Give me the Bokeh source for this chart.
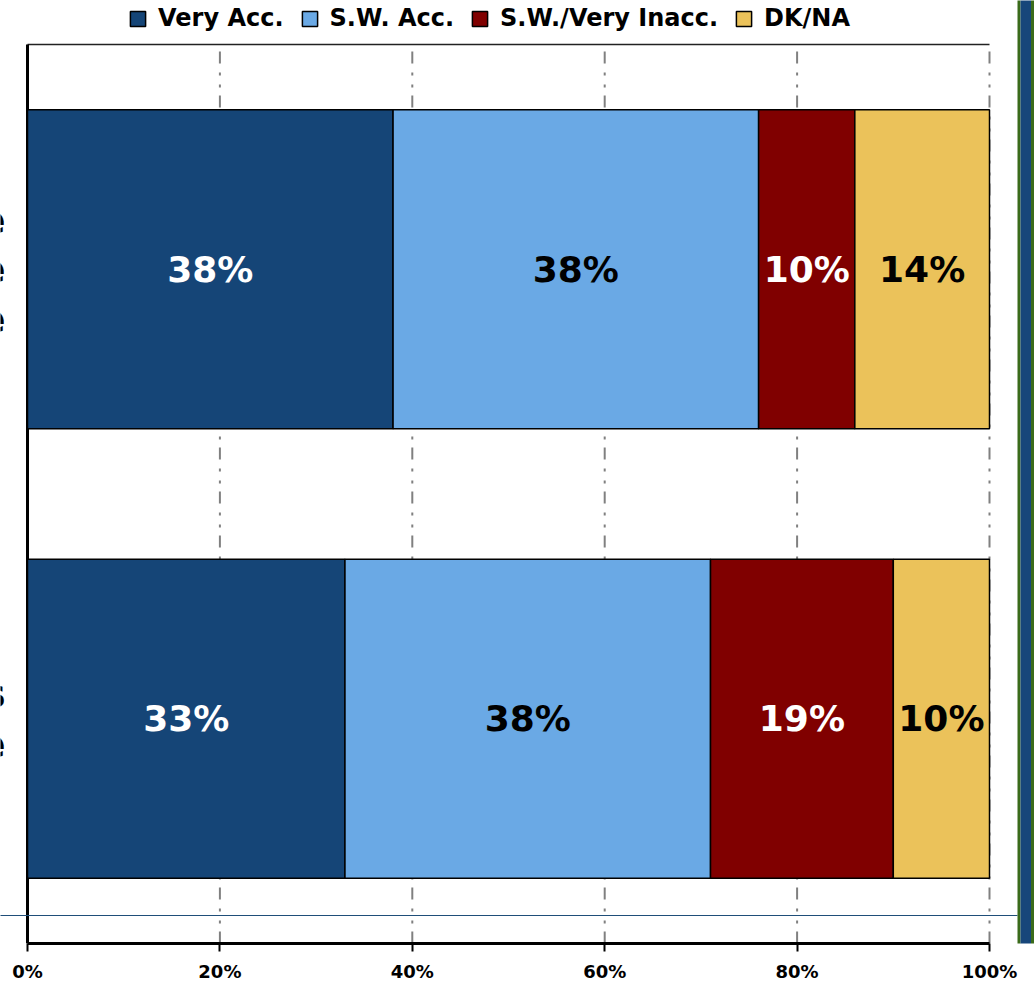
from bokeh.plotting import figure
from bokeh.models import Range1d, FixedTicker, PrintfTickFormatter, ColumnDataSource
from bokeh.core.properties import value
from bokeh.embed import file_html
from bokeh.resources import INLINE

# ---------------- data ----------------
categories = ["Online\nMagazine\nArticle", "Business\nMagazine"]   # top, bottom (only the last letters are visible)
series = ["Very Acc.", "S.W. Acc.", "S.W./Very Inacc.", "DK/NA"]
very_acc = [38, 33]
sw_acc = [38, 38]
sw_very_inacc = [10, 19]
dk_na = [14, 10]
colors = ["#154577", "#6aa9e5", "#800000", "#ebc25a"]
label_colors = ["white", "black", "white", "black"]
x_ticks = [0, 20, 40, 60, 80, 100]

# ---------------- layout constants ----------------
W, H = 1034, 984
PX_PER_X = 9.62          # pixels per percent
X0_PX = 27               # page x of 0%
PX_PER_Y = 449.5
TOP_PX = 44              # page y of the top border
BOTTOM_PX = 943          # page y of the x axis

def xpx(px):
    return (px - X0_PX) / PX_PER_X

ypos = [1, 0]            # top category at 1, bottom at 0
bar_h = 0.71

p = figure(width=W, height=H,
           x_range=Range1d(xpx(0), xpx(W)),
           y_range=Range1d(-0.5, 1.5 + TOP_PX / PX_PER_Y),
           min_border_left=0, min_border_right=0, min_border_top=0,
           min_border_bottom=H - BOTTOM_PX,
           y_axis_location=None, toolbar_location=None, output_backend="svg",
           outline_line_color=None, background_fill_color="white",
           border_fill_color="white")
p.grid.visible = False

# grid lines (dash-dot-dot)
p.segment(x0=x_ticks, x1=x_ticks, y0=[-0.5] * len(x_ticks), y1=[1.5] * len(x_ticks),
          line_color="#808080", line_width=2, line_dash="12 8 3 9 3 9")

# top border and left border
p.segment(x0=[0], x1=[100], y0=[1.5], y1=[1.5], line_color="#222222", line_width=1.5)
p.segment(x0=[0], x1=[0], y0=[-0.5], y1=[1.5], line_color="black", line_width=3)

# stacked bars
vals = [very_acc, sw_acc, sw_very_inacc, dk_na]
lefts = [0, 0]
for name, v, c, lc in zip(series, vals, colors, label_colors):
    rights = [l + d for l, d in zip(lefts, v)]
    src = ColumnDataSource(dict(y=ypos, left=lefts, right=rights,
                                xm=[(l + r) / 2 for l, r in zip(lefts, rights)],
                                lab=[f"{d}%" for d in v]))
    p.hbar(y="y", left="left", right="right", height=bar_h, source=src,
           fill_color=c, line_color="black", line_width=1.5, legend_label=name)
    p.text(x="xm", y="y", text="lab", source=src, text_align="center",
           text_baseline="middle", text_color=lc, text_font=value("DejaVu Sans"),
           text_font_style="bold", text_font_size="36px")
    lefts = rights

# category labels (cut off at the left edge, as in the reference)
p.text(x=[xpx(5)] * 2, y=ypos, text=categories, text_align="right",
       text_baseline="middle", text_color="black", text_font=value("DejaVu Sans"),
       text_font_style="bold", text_font_size="38px", text_line_height=1.13)

# thin slide line and right-hand stripe
line_y = -0.5 + (BOTTOM_PX - 915) / PX_PER_Y
p.segment(x0=[xpx(-5)], x1=[xpx(1017)], y0=[line_y], y1=[line_y],
          line_color="#1f4e79", line_width=1)
p.quad(left=[xpx(1017)], right=[xpx(1020)], bottom=[-1], top=[3],
       fill_color="#3a6b1a", line_color=None)
p.quad(left=[xpx(1020)], right=[xpx(1030.5)], bottom=[-1], top=[3],
       fill_color="#17467a", line_color=None)
p.quad(left=[xpx(1030.5)], right=[xpx(1040)], bottom=[-1], top=[3],
       fill_color="#3a6b1a", line_color=None)

# x axis
ax = p.xaxis[0]
ax.ticker = FixedTicker(ticks=x_ticks)
ax.formatter = PrintfTickFormatter(format="%d%%")
ax.bounds = (0, 100)
ax.axis_line_width = 3
ax.axis_line_color = "black"
ax.major_tick_line_width = 2
ax.major_tick_line_color = "black"
ax.major_tick_out = 8
ax.major_tick_in = 0
ax.minor_tick_line_color = None
ax.major_label_standoff = 9
ax.major_label_text_font = "DejaVu Sans"
ax.major_label_text_font_style = "bold"
ax.major_label_text_font_size = "18px"
ax.major_label_text_color = "black"

# legend
lg = p.legend[0]
lg.orientation = "horizontal"
lg.location = (128, 911)
lg.padding = 0
lg.margin = 0
lg.spacing = 16
lg.label_standoff = 11
lg.glyph_width = 19
lg.glyph_height = 19
lg.border_line_color = None
lg.background_fill_color = "white"
lg.background_fill_alpha = 1
lg.label_text_font = "DejaVu Sans"
lg.label_text_font_style = "bold"
lg.label_text_font_size = "24px"
lg.label_text_color = "black"

open("out.html", "w").write(file_html(p, INLINE))
